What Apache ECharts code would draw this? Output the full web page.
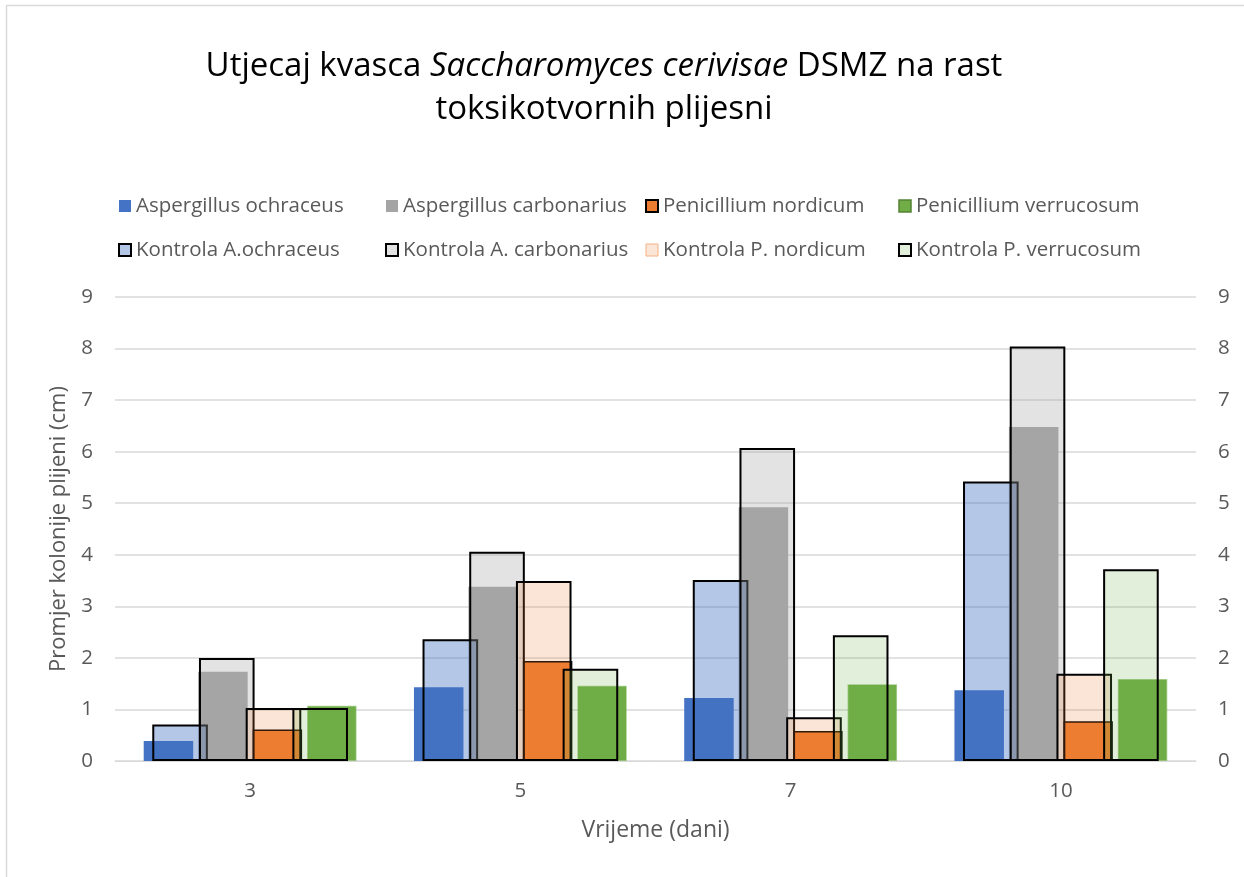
<!DOCTYPE html>
<html>
<head>
<meta charset="utf-8">
<script src="https://cdn.jsdelivr.net/npm/echarts@6/dist/echarts.min.js"></script>
<style>
  html, body { margin: 0; padding: 0; background: #fff; }
  #main { width: 1244px; height: 877px; }
</style>
</head>
<body>
<div id="main"></div>
<script>
// dani mjerenja
var days = ['3', '5', '7', '10'];

// promjer kolonije uz kvasac (cm)
var aOchraceus = [0.39, 1.43, 1.22, 1.37];
var aCarbonarius = [1.73, 3.38, 4.92, 6.48];
var pNordicum = [0.61, 1.94, 0.58, 0.77];
var pVerrucosum = [1.07, 1.46, 1.49, 1.59];

// kontrole (cm)
var kAOchraceus = [0.71, 2.36, 3.51, 5.42];
var kACarbonarius = [2.00, 4.06, 6.07, 8.04];
var kPNordicum = [1.03, 3.49, 0.85, 1.69];
var kPVerrucosum = [1.03, 1.79, 2.44, 3.72];

var FONT = '"Open Sans", sans-serif';
var GREY = '#595959';

var chart = echarts.init(document.getElementById('main'));

function legendCol(x, names) {
	return {
		orient: 'vertical',
		left: x,
		top: 190,
		itemWidth: 12,
		itemHeight: 12,
		itemGap: 22,
		icon: 'rect',
		textStyle: { fontFamily: FONT, fontSize: 20.5, color: GREY, lineHeight: 22 },
		data: names
	};
}

function mainBar(name, data, color, border) {
	return {
		name: name,
		type: 'bar',
		xAxisIndex: 0,
		yAxisIndex: 0,
		barWidth: 49.5,
		barGap: '10%',
		data: data,
		itemStyle: {
			color: color,
			borderColor: border || color,
			borderWidth: border ? 1.5 : 0
		}
	};
}

function ctrlBar(name, data, fill) {
	return {
		name: name,
		type: 'bar',
		xAxisIndex: 1,
		yAxisIndex: 1,
		barWidth: 55.6,
		barGap: '-16%',
		data: data,
		itemStyle: {
			color: fill,
			borderColor: '#000',
			borderWidth: 2
		}
	};
}

var option = {
	animation: false,
	backgroundColor: '#fff',
	graphic: [{
		type: 'rect',
		shape: { x: 6.5, y: 5.5, width: 1300, height: 1000 },
		style: { fill: 'none', stroke: '#D9D9D9', lineWidth: 1.5 },
		silent: true
	}],
	title: {
		left: 599,
		top: 40,
		textAlign: 'center',
		text: '{n|Utjecaj kvasca }{i|Saccharomyces cerivisae}{n| DSMZ na rast}\n{n|toksikotvornih plijesni}',
		textStyle: {
			rich: {
				n: { fontFamily: FONT, fontSize: 33, fontWeight: 'normal', color: '#000', lineHeight: 43 },
				i: { fontFamily: FONT, fontSize: 33, fontWeight: 'normal', color: '#000', fontStyle: 'italic', lineHeight: 43 }
			}
		}
	},
	legend: [
		legendCol(113, ['Aspergillus ochraceus', 'Kontrola A.ochraceus']),
		legendCol(380, ['Aspergillus carbonarius', 'Kontrola A. carbonarius']),
		legendCol(640, ['Penicillium nordicum',
			{ name: 'Kontrola P. nordicum', itemStyle: { borderColor: '#F4B183', borderWidth: 1 } }]),
		legendCol(893, [
			{ name: 'Penicillium verrucosum', itemStyle: { borderColor: '#548235', borderWidth: 1.5 } },
			'Kontrola P. verrucosum'])
	],
	grid: { left: 115, right: 48, top: 297, bottom: 116, containLabel: false },
	xAxis: [{
		type: 'category',
		data: days,
		name: 'Vrijeme (dani)',
		nameLocation: 'middle',
		nameGap: 58,
		nameTextStyle: { fontFamily: FONT, fontSize: 23, color: GREY },
		axisLine: { lineStyle: { color: '#D9D9D9' } },
		axisTick: { show: false },
		axisLabel: { fontFamily: FONT, fontSize: 20.5, color: GREY, margin: 20 }
	}, {
		type: 'category',
		data: days,
		show: false
	}],
	yAxis: [{
		type: 'value',
		min: 0,
		max: 9,
		interval: 1,
		name: 'Promjer kolonije plijeni (cm)',
		nameLocation: 'middle',
		nameGap: 45,
		nameTextStyle: { fontFamily: FONT, fontSize: 22, color: GREY },
		axisLine: { show: false },
		axisTick: { show: false },
		axisLabel: { fontFamily: FONT, fontSize: 20.5, color: GREY, margin: 22 },
		splitLine: { lineStyle: { color: '#D9D9D9', width: 1.5 } }
	}, {
		type: 'value',
		position: 'right',
		min: 0,
		max: 9,
		interval: 1,
		axisLine: { show: false },
		axisTick: { show: false },
		axisLabel: { fontFamily: FONT, fontSize: 20.5, color: GREY, margin: 22 },
		splitLine: { show: false }
	}],
	series: [
		mainBar('Aspergillus ochraceus', aOchraceus, '#4472C4'),
		mainBar('Aspergillus carbonarius', aCarbonarius, '#A5A5A5'),
		mainBar('Penicillium nordicum', pNordicum, '#ED7D31', '#000'),
		mainBar('Penicillium verrucosum', pVerrucosum, '#70AD47', 'rgba(112,173,71,0.55)'),
		ctrlBar('Kontrola A.ochraceus', kAOchraceus, 'rgba(68,114,196,0.4)'),
		ctrlBar('Kontrola A. carbonarius', kACarbonarius, 'rgba(165,165,165,0.31)'),
		ctrlBar('Kontrola P. nordicum', kPNordicum, 'rgba(237,125,49,0.2)'),
		ctrlBar('Kontrola P. verrucosum', kPVerrucosum, 'rgba(112,173,71,0.2)')
	]
};

chart.setOption(option);
</script>
</body>
</html>
